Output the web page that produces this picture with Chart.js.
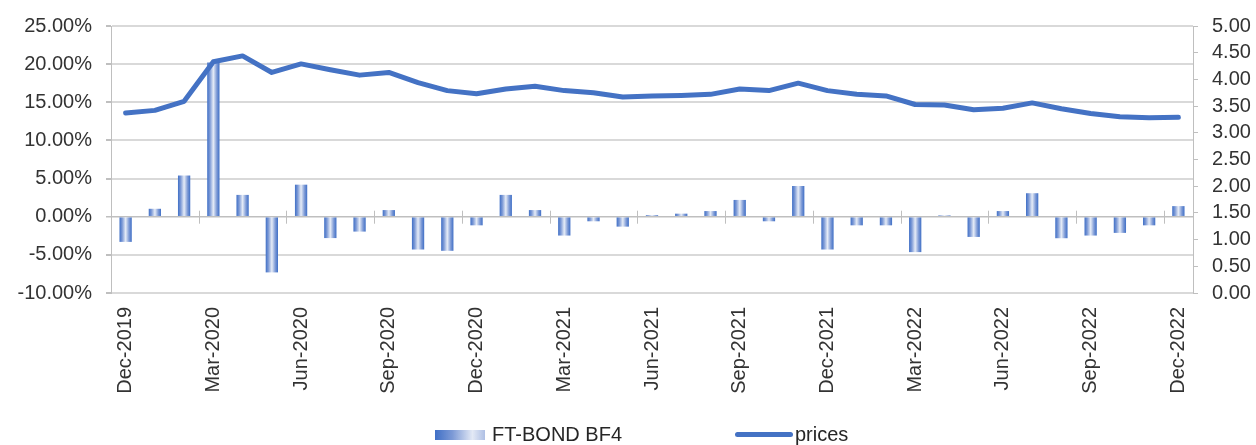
<!DOCTYPE html>
<html>
<head>
<meta charset="utf-8">
<title>FT-BOND BF4</title>
<script src="https://cdn.jsdelivr.net/npm/chart.js@4.4.1/dist/chart.umd.min.js"></script>
<style>
    html, body { margin: 0; padding: 0; background: #ffffff; }
    .wrap { position: relative; width: 1256px; height: 445px; font-family: "Liberation Sans", Arial, sans-serif; }
    .legend .item { position: absolute; top: 423px; display: flex; align-items: center; font-size: 20px; color: #262626; }
    .legend .bar-key { width: 50px; height: 10px; margin-right: 7px; background: linear-gradient(90deg, #3f6fc6 0%, #7d9ad6 35%, #e3e9f5 75%, #aebfe4 100%); }
    .legend .line-key { width: 58px; height: 5px; border-radius: 3px; margin-right: 2px; background: #4472c4; }
</style>
</head>
<body>
<div class="wrap">
    <canvas id="bondChart" width="1256" height="445"></canvas>
    <div class="legend">
        <div class="item" style="left: 435px;"><span class="bar-key"></span>FT-BOND BF4</div>
        <div class="item" style="left: 735px;"><span class="line-key"></span>prices</div>
    </div>
</div>
<script>
// Bulan (Dec-2019 s/d Dec-2022)
const months = [
    'Dec-2019', 'Jan-2020', 'Feb-2020', 'Mar-2020', 'Apr-2020', 'May-2020', 'Jun-2020',
    'Jul-2020', 'Aug-2020', 'Sep-2020', 'Oct-2020', 'Nov-2020', 'Dec-2020',
    'Jan-2021', 'Feb-2021', 'Mar-2021', 'Apr-2021', 'May-2021', 'Jun-2021',
    'Jul-2021', 'Aug-2021', 'Sep-2021', 'Oct-2021', 'Nov-2021', 'Dec-2021',
    'Jan-2022', 'Feb-2022', 'Mar-2022', 'Apr-2022', 'May-2022', 'Jun-2022',
    'Jul-2022', 'Aug-2022', 'Sep-2022', 'Oct-2022', 'Nov-2022', 'Dec-2022'
];

// Return bulanan (%)
const monthlyReturns = [
    -3.3, 1.04, 5.4, 20.2, 2.86, -7.3, 4.2,
    -2.8, -1.95, 0.87, -4.3, -4.47, -1.13,
    2.86, 0.87, -2.47, -0.6, -1.3, 0.2,
    0.4, 0.74, 2.2, -0.6, 4.03, -4.3,
    -1.13, -1.13, -4.64, 0.17, -2.65, 0.74,
    3.08, -2.82, -2.47, -2.12, -1.13, 1.39
];

// Harga
const prices = [
    3.37, 3.42, 3.59, 4.33, 4.44, 4.13, 4.29,
    4.18, 4.08, 4.13, 3.94, 3.79, 3.73,
    3.82, 3.87, 3.79, 3.75, 3.67, 3.69,
    3.70, 3.72, 3.82, 3.79, 3.93, 3.79,
    3.72, 3.69, 3.53, 3.52, 3.43, 3.46,
    3.56, 3.45, 3.36, 3.30, 3.28, 3.29
];

const blue = '#4472c4';
const gridGrey = '#d9d9d9';
const axisGrey = '#bfbfbf';
const textColor = '#333333';
const fontFamily = '"Liberation Sans", Arial, sans-serif';

// Gradient untuk setiap batang (gelap di pinggir, terang di tengah)
function barFill(ctx) {
    const chart = ctx.chart;
    const area = chart.chartArea;
    if (!area || ctx.dataIndex === undefined) return blue;
    const x = chart.scales.x.getPixelForValue(ctx.dataIndex);
    const half = (area.width / months.length) * 0.42 / 2;
    const g = chart.ctx.createLinearGradient(x - half, 0, x + half, 0);
    g.addColorStop(0, '#3f6fc6');
    g.addColorStop(0.22, '#7d9ad6');
    g.addColorStop(0.5, '#e6ecf7');
    g.addColorStop(0.78, '#7d9ad6');
    g.addColorStop(1, '#3f6fc6');
    return g;
}

// Tanda tick kategori yang memotong garis 0%
const zeroTicks = {
    id: 'zeroTicks',
    beforeDatasetsDraw(chart) {
        const { ctx, scales } = chart;
        const y0 = scales.y.getPixelForValue(0);
        const step = (scales.x.right - scales.x.left) / months.length;
        ctx.save();
        ctx.strokeStyle = axisGrey;
        ctx.lineWidth = 1;
        for (let i = 3; i < months.length; i += 3) {
            const x = Math.round(scales.x.left + step * i) + 0.5;
            ctx.beginPath();
            ctx.moveTo(x, y0 - 6);
            ctx.lineTo(x, y0 + 7);
            ctx.stroke();
        }
        ctx.restore();
    }
};

function initializeChart() {
    const ctx = document.getElementById('bondChart').getContext('2d');
    new Chart(ctx, {
        data: {
            labels: months,
            datasets: [
                {
                    type: 'line',
                    label: 'prices',
                    data: prices,
                    yAxisID: 'y1',
                    borderColor: blue,
                    borderWidth: 5,
                    pointRadius: 0,
                    tension: 0,
                    borderJoinStyle: 'round',
                    borderCapStyle: 'round',
                    order: 1
                },
                {
                    type: 'bar',
                    label: 'FT-BOND BF4',
                    data: monthlyReturns,
                    yAxisID: 'y',
                    backgroundColor: barFill,
                    borderWidth: 0,
                    barPercentage: 0.42,
                    categoryPercentage: 1,
                    order: 2
                }
            ]
        },
        options: {
            responsive: false,
            animation: false,
            layout: { padding: { top: 24, left: 0, right: 0, bottom: 0 } },
            plugins: {
                legend: { display: false },
                tooltip: { enabled: false }
            },
            scales: {
                x: {
                    offset: true,
                    grid: { display: false, drawTicks: false },
                    border: { display: false },
                    ticks: {
                        autoSkip: false,
                        maxRotation: 90,
                        minRotation: 90,
                        padding: 14,
                        color: textColor,
                        font: { family: fontFamily, size: 20 },
                        callback: function(value, index) {
                            return index % 3 === 0 ? months[index] : '';
                        }
                    },
                    afterFit(scale) { scale.height = 152; }
                },
                y: {
                    position: 'left',
                    min: -10,
                    max: 25,
                    ticks: {
                        stepSize: 5,
                        autoSkip: false,
                        padding: 14,
                        color: textColor,
                        font: { family: fontFamily, size: 20 },
                        callback: v => v.toFixed(2) + '%'
                    },
                    grid: {
                        color: c => (c.tick && c.tick.value === 0 ? axisGrey : gridGrey),
                        lineWidth: c => (c.tick && c.tick.value === 0 ? 1.5 : 2),
                        tickColor: axisGrey,
                        tickLength: 5
                    },
                    border: { display: true, color: axisGrey, width: 1 },
                    afterFit(scale) { scale.width = 111; }
                },
                y1: {
                    position: 'right',
                    min: 0,
                    max: 5,
                    ticks: {
                        stepSize: 0.5,
                        autoSkip: false,
                        padding: 14,
                        color: textColor,
                        font: { family: fontFamily, size: 20 },
                        callback: v => v.toFixed(2)
                    },
                    grid: {
                        drawOnChartArea: false,
                        tickColor: axisGrey,
                        tickLength: 5
                    },
                    border: { display: true, color: axisGrey, width: 1 },
                    afterFit(scale) { scale.width = 63; }
                }
            }
        },
        plugins: [zeroTicks]
    });
}

document.addEventListener('DOMContentLoaded', initializeChart);
</script>
</body>
</html>
